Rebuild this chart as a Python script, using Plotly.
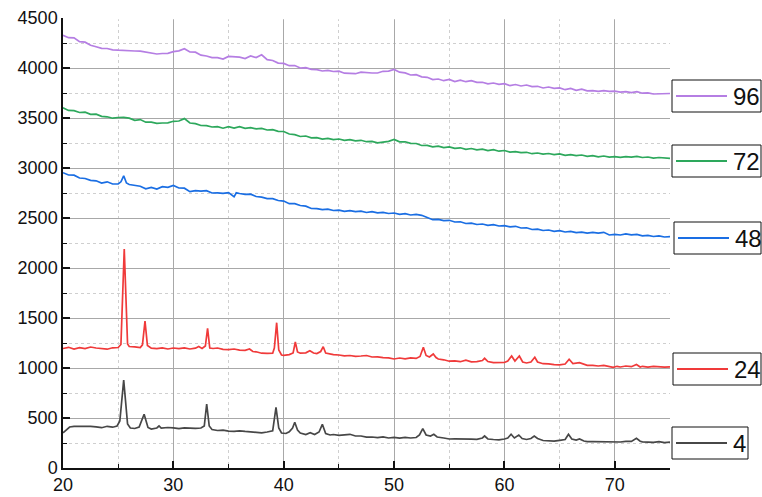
import plotly.graph_objects as go

# ---------------- data ----------------
# common 0.5-degree sampling used by the featureless series
grid_x = [20 + 0.5 * i for i in range(111)]

y_96 = [4328, 4303, 4301, 4263, 4258, 4228, 4212, 4197, 4195, 4182,
        4178, 4173, 4171, 4170, 4168, 4159, 4152, 4140, 4145, 4147,
        4164, 4171, 4193, 4160, 4158, 4128, 4120, 4104, 4103, 4089,
        4116, 4111, 4108, 4095, 4120, 4104, 4132, 4084, 4075, 4049,
        4046, 4023, 4025, 4000, 4003, 3986, 3984, 3970, 3977, 3965,
        3968, 3948, 3945, 3943, 3958, 3951, 3950, 3950, 3967, 3969,
        3986, 3958, 3951, 3930, 3933, 3911, 3907, 3884, 3890, 3873,
        3886, 3865, 3878, 3863, 3874, 3856, 3857, 3842, 3850, 3837,
        3844, 3823, 3835, 3820, 3830, 3814, 3817, 3800, 3810, 3797,
        3801, 3783, 3795, 3777, 3788, 3771, 3774, 3766, 3773, 3767,
        3769, 3758, 3763, 3753, 3763, 3748, 3752, 3740, 3741, 3739,
        3745]

y_72 = [3602, 3576, 3574, 3555, 3558, 3536, 3538, 3516, 3512, 3498,
        3505, 3506, 3499, 3477, 3484, 3458, 3458, 3446, 3450, 3451,
        3467, 3470, 3494, 3450, 3444, 3425, 3424, 3410, 3414, 3398,
        3413, 3399, 3414, 3397, 3403, 3391, 3396, 3380, 3383, 3366,
        3365, 3340, 3334, 3315, 3320, 3301, 3304, 3289, 3297, 3284,
        3290, 3276, 3284, 3271, 3277, 3263, 3266, 3252, 3259, 3266,
        3285, 3262, 3262, 3247, 3245, 3225, 3226, 3212, 3219, 3204,
        3211, 3196, 3202, 3187, 3195, 3181, 3188, 3174, 3183, 3168,
        3175, 3159, 3164, 3153, 3157, 3143, 3150, 3138, 3145, 3134,
        3141, 3126, 3134, 3123, 3130, 3117, 3124, 3112, 3120, 3108,
        3113, 3106, 3114, 3109, 3117, 3105, 3110, 3098, 3105, 3098,
        3096]

pts_48 = [(20.0, 2953), (20.5, 2930), (21.0, 2928), (21.5, 2900), (22.0, 2895),
          (22.5, 2877), (23.0, 2872), (23.5, 2850), (24.0, 2862), (24.5, 2840),
          (25.0, 2840), (25.25, 2862), (25.5, 2922), (25.75, 2850), (26.0, 2835),
          (26.5, 2825), (27.0, 2818), (27.5, 2792), (28.0, 2806), (28.5, 2790),
          (29.0, 2814), (29.5, 2806), (30.0, 2826), (30.5, 2800), (31.0, 2798),
          (31.5, 2764), (32.0, 2773), (32.5, 2769), (33.0, 2774), (33.5, 2750),
          (34.0, 2752), (34.5, 2746), (35.0, 2754), (35.5, 2712), (35.7, 2752),
          (36.0, 2745), (36.5, 2737), (37.0, 2739), (37.5, 2715), (38.0, 2709),
          (38.5, 2694), (39.0, 2694), (39.5, 2675), (40.0, 2669), (40.5, 2643),
          (41.0, 2644), (41.5, 2625), (42.0, 2619), (42.5, 2595), (43.0, 2594),
          (43.5, 2583), (44.0, 2589), (44.5, 2575), (45.0, 2579), (45.5, 2567),
          (46.0, 2574), (46.5, 2563), (47.0, 2569), (47.5, 2555), (48.0, 2564),
          (48.5, 2552), (49.0, 2556), (49.5, 2545), (50.0, 2550), (50.5, 2537),
          (51.0, 2544), (51.5, 2530), (52.0, 2536), (52.5, 2527), (53.0, 2505),
          (53.5, 2483), (54.0, 2486), (54.5, 2473), (55.0, 2477), (55.5, 2460),
          (56.0, 2462), (56.5, 2445), (57.0, 2449), (57.5, 2435), (58.0, 2440),
          (58.5, 2427), (59.0, 2434), (59.5, 2420), (60.0, 2424), (60.5, 2411),
          (61.0, 2417), (61.5, 2400), (62.0, 2402), (62.5, 2385), (63.0, 2389),
          (63.5, 2375), (64.0, 2380), (64.5, 2367), (65.0, 2374), (65.5, 2360),
          (66.0, 2366), (66.5, 2353), (67.0, 2359), (67.5, 2348), (68.0, 2356),
          (68.5, 2349), (69.0, 2357), (69.5, 2330), (70.0, 2336), (70.5, 2330),
          (71.0, 2342), (71.5, 2331), (72.0, 2336), (72.5, 2321), (73.0, 2326),
          (73.5, 2315), (74.0, 2322), (74.5, 2310), (75.0, 2313)]

pts_24 = [(20.0, 1195), (20.5, 1207), (21.0, 1190), (21.5, 1203), (22.0, 1194),
          (22.5, 1210), (23.0, 1200), (23.5, 1197), (24.0, 1188), (24.5, 1202),
          (25.0, 1205), (25.25, 1235), (25.55, 2190), (25.85, 1240), (26.0, 1215),
          (26.5, 1212), (27.0, 1205), (27.2, 1232), (27.43, 1470), (27.65, 1225),
          (28.0, 1198), (28.5, 1193), (29.0, 1202), (29.5, 1190), (30.0, 1200),
          (30.5, 1193), (31.0, 1202), (31.5, 1190), (32.0, 1198), (32.3, 1215),
          (32.6, 1195), (32.9, 1220), (33.1, 1397), (33.3, 1200), (33.6, 1195),
          (34.0, 1200), (34.5, 1186), (35.0, 1184), (35.5, 1190), (36.0, 1178),
          (36.5, 1177), (36.9, 1190), (37.2, 1165), (37.5, 1162), (38.0, 1148),
          (38.5, 1147), (39.0, 1148), (39.15, 1200), (39.36, 1453), (39.55, 1180),
          (39.8, 1130), (40.0, 1126), (40.5, 1134), (40.85, 1150), (41.05, 1260),
          (41.25, 1160), (41.5, 1148), (42.0, 1152), (42.37, 1172), (42.7, 1150),
          (43.0, 1145), (43.35, 1165), (43.58, 1213), (43.8, 1150), (44.0, 1145),
          (44.5, 1133), (45.0, 1130), (45.5, 1122), (46.0, 1125), (46.5, 1117),
          (47.0, 1120), (47.5, 1125), (48.0, 1110), (48.5, 1112), (49.0, 1103),
          (49.5, 1102), (50.0, 1090), (50.5, 1100), (51.0, 1092), (51.5, 1102),
          (52.0, 1096), (52.35, 1115), (52.65, 1207), (52.9, 1125), (53.2, 1110),
          (53.55, 1140), (53.8, 1105), (54.0, 1090), (54.5, 1082), (55.0, 1068),
          (55.5, 1072), (56.0, 1063), (56.5, 1078), (57.0, 1062), (57.5, 1064),
          (58.0, 1075), (58.2, 1097), (58.5, 1065), (59.0, 1053), (59.5, 1054),
          (60.0, 1055), (60.3, 1070), (60.65, 1120), (60.95, 1070), (61.35, 1120),
          (61.65, 1060), (62.0, 1050), (62.4, 1060), (62.75, 1107), (63.0, 1060),
          (63.5, 1043), (64.0, 1042), (64.5, 1033), (65.0, 1032), (65.5, 1040),
          (65.86, 1087), (66.2, 1045), (66.8, 1053), (67.2, 1035), (67.5, 1026),
          (68.0, 1027), (68.5, 1020), (69.0, 1027), (69.5, 1016), (69.85, 1007),
          (70.2, 1017), (70.5, 1010), (71.0, 1020), (71.5, 1013), (71.96, 1035),
          (72.3, 1010), (72.5, 1017), (73.0, 1008), (73.5, 1017), (74.0, 1010),
          (74.5, 1008), (75.0, 1012)]

pts_4 = [(20.0, 352), (20.3, 380), (20.6, 410), (21.0, 417), (21.5, 418),
         (22.0, 414), (22.5, 416), (23.0, 412), (23.5, 403), (24.0, 417),
         (24.5, 408), (24.9, 420), (25.15, 470), (25.5, 880), (25.85, 440),
         (26.1, 400), (26.5, 395), (26.9, 410), (27.35, 537), (27.7, 405),
         (28.0, 390), (28.5, 400), (28.7, 420), (28.9, 398), (29.5, 405),
         (30.0, 402), (30.5, 393), (31.0, 402), (31.5, 396), (32.0, 397),
         (32.5, 400), (32.8, 420), (33.02, 640), (33.25, 420), (33.5, 385),
         (34.0, 375), (34.5, 378), (35.0, 368), (35.5, 367), (36.0, 372),
         (36.5, 366), (37.0, 362), (37.5, 360), (38.0, 352), (38.5, 360),
         (39.0, 372), (39.3, 607), (39.55, 400), (39.8, 350), (40.2, 345),
         (40.5, 362), (40.8, 400), (41.0, 457), (41.25, 380), (41.5, 350),
         (42.0, 335), (42.4, 353), (42.8, 335), (43.2, 360), (43.5, 437),
         (43.8, 345), (44.2, 330), (44.5, 335), (45.0, 326), (45.5, 332),
         (46.0, 337), (46.5, 320), (47.0, 320), (47.5, 308), (48.0, 310),
         (48.5, 303), (49.0, 312), (49.5, 300), (50.0, 307), (50.5, 298),
         (51.0, 307), (51.5, 300), (52.0, 305), (52.3, 330), (52.6, 393),
         (52.9, 330), (53.3, 320), (53.6, 337), (53.9, 310), (54.5, 300),
         (55.0, 290), (55.5, 292), (56.0, 293), (56.5, 290), (57.0, 288),
         (57.5, 287), (58.0, 300), (58.2, 320), (58.5, 290), (59.0, 285),
         (59.5, 282), (60.0, 290), (60.3, 300), (60.6, 337), (60.9, 300),
         (61.3, 330), (61.6, 295), (62.0, 285), (62.4, 295), (62.7, 320),
         (63.0, 295), (63.5, 275), (64.0, 274), (64.5, 268), (65.0, 277),
         (65.5, 285), (65.8, 337), (66.1, 290), (66.5, 280), (66.8, 290),
         (67.2, 270), (67.5, 263), (68.0, 264), (68.5, 263), (69.0, 264),
         (69.5, 263), (70.0, 262), (70.5, 260), (71.0, 267), (71.5, 266),
         (71.96, 297), (72.3, 268), (72.5, 262), (73.0, 260), (73.5, 256),
         (74.0, 264), (74.5, 254), (75.0, 258)]

series_names = ["4", "24", "48", "72", "96"]
series_colors = ["#474747", "#f03a3a", "#1a6ee3", "#2da85c", "#b57ee3"]

x_4, y_4 = [p[0] for p in pts_4], [p[1] for p in pts_4]
x_24, y_24 = [p[0] for p in pts_24], [p[1] for p in pts_24]
x_48, y_48 = [p[0] for p in pts_48], [p[1] for p in pts_48]
series_x = [x_4, x_24, x_48, grid_x, grid_x]
series_y = [y_4, y_24, y_48, y_72, y_96]

# ---------------- figure ----------------
W, H = 762, 497
L, R, T, B = 63, 92, 18, 29
PW, PH = W - L - R, H - T - B

fig = go.Figure()
for name, col, xs, ys in zip(series_names, series_colors, series_x, series_y):
    fig.add_trace(go.Scatter(x=xs, y=ys, mode="lines", name=name,
                             line=dict(color=col, width=1.7),
                             showlegend=False))

def px(xp):
    return (xp - L) / PW

def py(yp):
    return (T + PH - yp) / PH

# individual legend boxes (pixel layout) placed beside each trace end
boxes = [  # name, x0, x1, y0, y1
    ("96", 672, 761, 80, 112),
    ("72", 672, 761, 145, 177),
    ("48", 674, 761, 222, 254),
    ("24", 673, 761, 353, 385),
    ("4", 672, 748, 427, 459),
]
color_of = dict(zip(series_names, series_colors))
shapes, annos = [], []
# the top frame edge carries no grid line in the original
shapes.append(dict(type="line", xref="paper", yref="paper", x0=px(L + 9), x1=1.002,
                   y0=1, y1=1, line=dict(color="white", width=2.5), layer="above"))
for name, x0, x1, y0, y1 in boxes:
    shapes.append(dict(type="rect", xref="paper", yref="paper",
                       x0=px(x0), x1=px(x1), y0=py(y1), y1=py(y0),
                       line=dict(color="#111", width=1), fillcolor="white",
                       layer="above"))
    ym = (y0 + y1) / 2
    shapes.append(dict(type="line", xref="paper", yref="paper",
                       x0=px(x0 + 4), x1=px(x0 + 55), y0=py(ym), y1=py(ym),
                       line=dict(color=color_of[name], width=2), layer="above"))
    annos.append(dict(text=name, xref="paper", yref="paper",
                      x=px(x0 + 59), y=py(ym), xanchor="left", yanchor="middle",
                      showarrow=False,
                      font=dict(family="Liberation Sans, Arial", size=24, color="#111")))

axis_common = dict(
    showline=True, linecolor="#111", linewidth=1.5,
    ticks="inside", ticklen=7, tickwidth=1.5, tickcolor="#111",
    showgrid=True, gridcolor="#a8a8a8", gridwidth=1,
    zeroline=False,
    tickfont=dict(family="Liberation Sans, Arial", size=18, color="#111"),
)

fig.update_layout(
    width=W, height=H,
    margin=dict(l=L, r=R, t=T, b=B, autoexpand=False),
    paper_bgcolor="white", plot_bgcolor="white",
    xaxis=dict(range=[20, 75], tick0=20, dtick=10,
               minor=dict(dtick=5, ticks="inside", ticklen=4, tickwidth=1.2,
                          tickcolor="#111", showgrid=True,
                          gridcolor="#cfcfcf", griddash="dot", gridwidth=1),
               **axis_common),
    yaxis=dict(range=[0, 4500], tick0=0, dtick=500,
               minor=dict(dtick=250, ticks="inside", ticklen=4, tickwidth=1.2,
                          tickcolor="#111", showgrid=True,
                          gridcolor="#cfcfcf", griddash="dot", gridwidth=1),
               **axis_common),
    shapes=shapes, annotations=annos,
)

fig.write_html("out.html")
